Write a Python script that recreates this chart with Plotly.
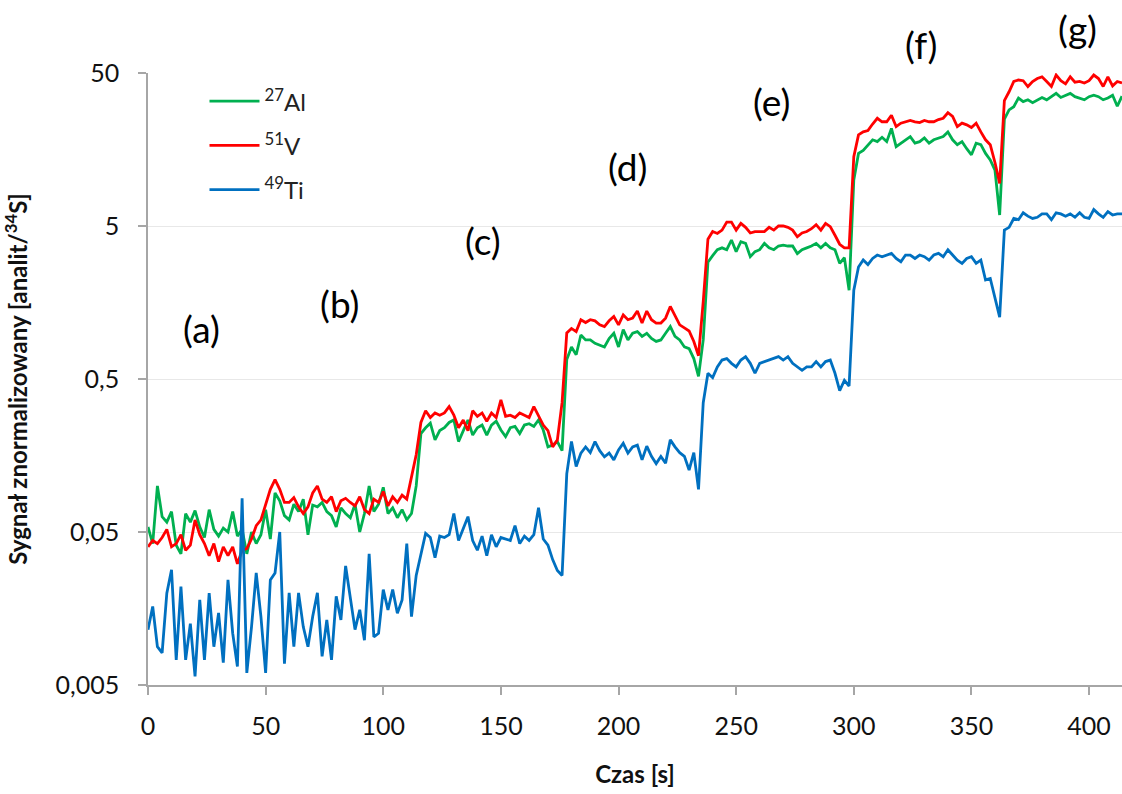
import plotly.graph_objects as go

# Time axis (s), one sample every 2 s
TIME_S = list(range(0, 415, 2))

# 27Al signal normalised to 34S
AL27 = [
    0.054, 0.042, 0.100, 0.063, 0.058, 0.068, 0.041, 0.036, 0.066, 0.058,
    0.069, 0.054, 0.046, 0.070, 0.052, 0.047, 0.053, 0.050, 0.068, 0.047,
    0.052, 0.036, 0.050, 0.042, 0.048, 0.070, 0.045, 0.090, 0.080, 0.064,
    0.060, 0.076, 0.068, 0.082, 0.048, 0.075, 0.073, 0.078, 0.068, 0.064,
    0.054, 0.072, 0.066, 0.062, 0.076, 0.050, 0.066, 0.100, 0.068, 0.076,
    0.098, 0.066, 0.072, 0.062, 0.070, 0.060, 0.066, 0.100, 0.220, 0.240,
    0.257, 0.200, 0.230, 0.240, 0.260, 0.270, 0.195, 0.230, 0.270, 0.215,
    0.240, 0.250, 0.215, 0.250, 0.265, 0.232, 0.210, 0.240, 0.245, 0.220,
    0.250, 0.255, 0.245, 0.270, 0.232, 0.180, 0.185, 0.195, 0.170, 0.670,
    0.81, 0.72, 0.97, 0.90, 0.90, 0.855, 0.83, 0.81, 0.92, 0.995,
    0.81, 1.05, 0.90, 0.995, 1.02, 0.95, 0.995, 0.92, 0.88, 0.90,
    0.995, 1.10, 0.95, 0.90, 0.81, 0.79, 0.68, 0.52, 0.90, 2.90,
    3.2, 3.5, 3.6, 3.5, 4.05, 3.4, 3.95, 3.85, 3.15, 3.4,
    3.5, 3.85, 3.6, 3.5, 3.7, 3.75, 3.7, 3.7, 3.3, 3.5,
    3.6, 3.7, 3.85, 3.6, 3.85, 3.6, 3.5, 2.85, 3.1, 1.9,
    10.0, 14.9, 15.6, 17.0, 18.3, 17.8, 19.0, 17.8, 21.7, 16.5,
    17.4, 18.3, 19.2, 17.4, 17.8, 18.8, 17.4, 18.3, 18.8, 19.2,
    20.6, 18.3, 17.0, 17.8, 16.0, 14.6, 17.4, 17.0, 14.9, 13.5,
    11.6, 5.9, 25.0, 28.7, 30.1, 34.3, 32.5, 33.4, 32.0, 33.4,
    34.6, 33.4, 35.3, 36.8, 34.6, 35.8, 36.8, 35.0, 34.3, 33.4,
    35.0, 35.8, 35.0, 33.4, 34.3, 35.8, 30.3, 35.3,
]

# 51V signal normalised to 34S
V51 = [
    0.040, 0.044, 0.042, 0.046, 0.052, 0.040, 0.042, 0.048, 0.038, 0.041,
    0.060, 0.048, 0.042, 0.035, 0.042, 0.032, 0.040, 0.035, 0.040, 0.031,
    0.038, 0.039, 0.045, 0.055, 0.060, 0.075, 0.095, 0.110, 0.095, 0.078,
    0.078, 0.084, 0.073, 0.066, 0.073, 0.090, 0.100, 0.082, 0.078, 0.085,
    0.068, 0.080, 0.083, 0.078, 0.074, 0.085, 0.070, 0.066, 0.082, 0.078,
    0.092, 0.074, 0.085, 0.078, 0.087, 0.082, 0.115, 0.160, 0.260, 0.310,
    0.280, 0.300, 0.290, 0.300, 0.330, 0.290, 0.240, 0.270, 0.230, 0.310,
    0.285, 0.300, 0.265, 0.300, 0.280, 0.365, 0.285, 0.290, 0.280, 0.300,
    0.290, 0.280, 0.330, 0.290, 0.250, 0.230, 0.180, 0.200, 0.350, 1.000,
    1.07, 1.02, 1.22, 1.17, 1.22, 1.20, 1.13, 1.10, 1.20, 1.28,
    1.13, 1.31, 1.22, 1.25, 1.39, 1.16, 1.39, 1.22, 1.16, 1.16,
    1.25, 1.49, 1.31, 1.13, 1.08, 1.03, 0.88, 0.71, 1.60, 4.10,
    4.6, 4.47, 4.7, 5.3, 5.3, 4.7, 5.2, 4.9, 4.5, 4.6,
    4.6, 4.6, 4.9, 4.7, 5.0, 5.0, 4.9, 4.7, 4.25, 4.5,
    4.6, 4.8, 5.1, 4.7, 5.2, 4.95, 4.35, 3.8, 3.6, 3.6,
    14.2, 19.7, 20.6, 21.0, 23.2, 25.3, 24.0, 24.0, 26.5, 22.3,
    23.5, 24.0, 24.5, 24.0, 23.7, 24.5, 24.0, 24.0, 24.8, 25.3,
    27.5, 26.0, 22.3, 23.5, 22.9, 22.0, 23.5, 20.6, 18.3, 17.0,
    13.0, 9.5, 33.0, 37.7, 44.0, 45.0, 44.5, 40.8, 44.0, 46.0,
    47.2, 44.0, 40.8, 48.5, 44.5, 42.5, 47.2, 43.5, 44.0, 43.0,
    44.5, 48.5, 46.0, 40.8, 47.2, 41.2, 44.0, 43.0,
]

# 49Ti signal normalised to 34S
TI49 = [
    0.0115, 0.0163, 0.0089, 0.0081, 0.0199, 0.0283, 0.0073, 0.022, 0.0073, 0.0126,
    0.0057, 0.018, 0.0073, 0.0199, 0.0089, 0.0148, 0.007, 0.0243, 0.0109, 0.0066,
    0.083, 0.006, 0.012, 0.027, 0.014, 0.006, 0.0243, 0.027, 0.05, 0.0069,
    0.020, 0.0089, 0.020, 0.012, 0.0089, 0.014, 0.020, 0.0077, 0.0133, 0.0073,
    0.019, 0.0133, 0.030, 0.018, 0.0115, 0.0155, 0.0098, 0.036, 0.0103, 0.0109,
    0.021, 0.0155, 0.021, 0.0147, 0.018, 0.042, 0.014, 0.026, 0.036, 0.049,
    0.046, 0.034, 0.047, 0.046, 0.048, 0.066, 0.044, 0.052, 0.063, 0.044,
    0.038, 0.047, 0.035, 0.048, 0.040, 0.046, 0.045, 0.044, 0.055, 0.042,
    0.047, 0.044, 0.048, 0.072, 0.045, 0.041, 0.033, 0.028, 0.026, 0.12,
    0.195, 0.134, 0.164, 0.18, 0.165, 0.195, 0.17, 0.155, 0.164, 0.148,
    0.172, 0.19, 0.164, 0.18, 0.185, 0.148, 0.182, 0.156, 0.14, 0.156,
    0.141, 0.20, 0.18, 0.165, 0.156, 0.127, 0.165, 0.095, 0.35, 0.545,
    0.51, 0.60, 0.665, 0.68, 0.633, 0.60, 0.665, 0.70, 0.633, 0.545,
    0.633, 0.65, 0.665, 0.68, 0.70, 0.665, 0.70, 0.633, 0.60, 0.57,
    0.60, 0.60, 0.65, 0.60, 0.65, 0.665, 0.545, 0.42, 0.49, 0.45,
    1.9, 2.7, 3.0, 2.8, 3.07, 3.23, 3.15, 3.23, 3.31, 3.07,
    2.92, 3.23, 3.23, 3.07, 3.23, 3.15, 2.99, 3.23, 3.31, 3.15,
    3.5, 3.23, 2.99, 2.85, 3.07, 3.15, 2.85, 2.99, 2.22, 2.27,
    1.72, 1.27, 4.7, 4.9, 5.6, 5.5, 6.1, 5.8, 5.6, 5.7,
    6.0, 6.0, 5.5, 6.1, 6.0, 5.8, 6.0, 5.7, 6.1, 5.7,
    5.6, 6.4, 6.0, 5.7, 6.2, 5.9, 6.0, 6.0,
]

SERIES_NAMES = ["<sup>27</sup>Al", "<sup>51</sup>V", "<sup>49</sup>Ti"]
Y_TICK_VALUES = [0.005, 0.05, 0.5, 5, 50]
Y_TICK_LABELS = ["0,005", "0,05", "0,5", "5", "50"]
X_TICK_VALUES = [0, 50, 100, 150, 200, 250, 300, 350, 400]
STAGE_LABELS = ["(a)", "(b)", "(c)", "(d)", "(e)", "(f)", "(g)"]

COLORS = ["#00b050", "#ff0000", "#0070c0"]
FONT = "Lato"

fig = go.Figure()
for name, vals, col in zip(SERIES_NAMES, [AL27, V51, TI49], COLORS):
    fig.add_trace(go.Scatter(
        x=TIME_S, y=vals, mode="lines", name=name, legendgroup=name,
        line=dict(color=col, width=2.8),
    ))

# label placement in paper coordinates
label_pos = [(0.0545, 0.582), (0.197, 0.624), (0.344, 0.727), (0.492, 0.848),
             (0.640, 0.953), (0.794, 1.047), (0.954, 1.072)]
for lab, (px, py) in zip(STAGE_LABELS, label_pos):
    fig.add_annotation(text=lab, x=px, y=py, xref="paper", yref="paper",
                       showarrow=False, font=dict(family=FONT, size=37, color="#000"),
                       xanchor="center", yanchor="middle")

axis_col = "#a6a6a6"
fig.update_layout(
    width=1122, height=794,
    margin=dict(l=148, r=0, t=73, b=109),
    paper_bgcolor="white", plot_bgcolor="white",
    font=dict(family=FONT, color="#222"),
    showlegend=True,
    legend=dict(x=0.058, y=0.99, xanchor="left", yanchor="top",
                font=dict(family=FONT, size=24, color="#222"),
                itemwidth=50,
                bgcolor="rgba(0,0,0,0)", traceorder="grouped", tracegroupgap=10),
    xaxis=dict(range=[0, 414], tickvals=X_TICK_VALUES, showgrid=False, zeroline=False,
               showline=True, linecolor=axis_col, linewidth=1.5,
               ticks="outside", ticklen=8, tickcolor=axis_col, tickwidth=1.5,
               ticklabelstandoff=10,
               tickfont=dict(family=FONT, size=25, color="#111"),
               title=dict(text="<b>Czas [s]</b>", font=dict(family=FONT, size=24, color="#111"),
                          standoff=27)),
    yaxis=dict(type="log", range=[-2.30103, 1.69897], tickvals=Y_TICK_VALUES,
               ticktext=Y_TICK_LABELS, showgrid=True, gridcolor="#e8e8e8", gridwidth=1.2,
               zeroline=False, showline=True, linecolor=axis_col, linewidth=1.5,
               ticks="outside", ticklen=8, tickcolor=axis_col, tickwidth=1.5,
               ticklabelstandoff=14,
               tickfont=dict(family=FONT, size=25, color="#111"),
               title=dict(text="<b>Sygnał znormalizowany [analit/<sup>34</sup>S]</b>",
                          font=dict(family=FONT, size=24, color="#111"), standoff=22)),
)

fig.write_html("out.html")
